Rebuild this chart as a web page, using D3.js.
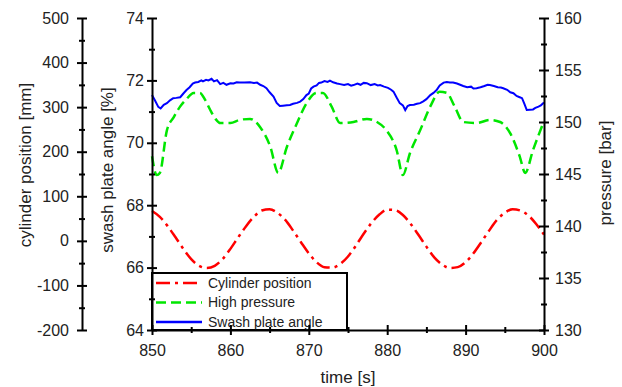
<!DOCTYPE html>
<html>
<head>
<meta charset="utf-8">
<script src="https://cdn.jsdelivr.net/npm/d3@7"></script>
<style>
body { margin: 0; background: #fff; }
text { font-family: "Liberation Sans", Arial, sans-serif; }
</style>
</head>
<body>
<div class="chart"></div>
<script>
let w = 622;
let h = 387;

// cylinder position [mm] vs time [s]
let cylTime = [850,851,852,853,854,855,856,857,858,859,860,861,862,863,864,865,866,867,868,869,870,
	871,872,873,874,875,876,877,878,879,880,881,882,883,884,885,886,887,888,889,890,
	891,892,893,894,895,896,897,898,899,900];
let cylPos = [67,54,33,8,-18,-41,-56,-61,-56,-41,-18,8,33,54,68,71,63,47,23,-3,-28,
	-48,-59,-60,-52,-35,-11,16,40,59,70,69,58,38,13,-13,-37,-53,-61,-59,-48,
	-28,-3,23,47,63,71,68,57,38,14];

// high pressure [bar]
let pressTime = [850,850.6,851,851.9,852.8,853.6,854.4,855.3,856.1,856.8,857.4,858.1,858.7,860,861.2,862.5,863.8,865.1,866.1,
	867.2,868.5,869.7,871,871.8,872.9,874,875.7,877.4,878.7,879.9,881.2,882,882.9,884.2,885.5,886.7,887.6,
	888.6,889.7,891.4,893.1,894.4,895.7,896.9,897.6,898.6,899.9];
let pressVal = [146.7,144.9,145.1,149.2,150.5,151.5,152.2,152.8,152.8,152.1,151.2,150.3,149.9,149.9,150.2,150.3,149.5,147.6,145.1,
	147.6,149.9,151.8,152.8,152.8,151.5,149.9,150.0,150.3,150.0,149.2,147.3,144.9,147.0,149.2,151.5,152.9,152.8,
	151.5,150.0,149.9,150.2,150.0,148.9,146.7,145.1,147.3,149.9];

// swash plate angle [%]
let swashTime = [850,850.4,850.8,851.1,851.5,851.9,852.3,852.7,853.1,853.6,854,854.4,854.8,855.2,855.5,855.9,856.3,856.5,856.9,857.2,
	857.6,857.9,858.3,858.7,859.1,859.5,860,860.4,860.8,861.2,861.8,862.5,863,863.4,863.8,864.2,864.6,865,865.5,865.9,
	866.3,866.7,867.2,867.6,868,868.5,868.9,869.3,869.7,870,870.3,870.6,871,871.3,871.6,872,872.4,872.7,873.1,873.6,
	874,874.5,875,875.4,875.7,876.2,876.6,877,877.4,877.9,878.4,878.8,879.1,879.6,880.1,880.5,880.8,881.2,881.6,882,
	882.3,882.6,882.9,883.4,883.8,884.2,884.6,885,885.5,885.9,886.3,886.7,887.2,887.6,888,888.4,888.9,889.3,889.7,890.2,
	890.7,891,891.4,891.9,892.4,892.8,893.1,893.6,894.1,894.5,894.8,895.3,895.7,896.1,896.5,896.9,897.2,897.5,897.8,898.2,
	898.6,898.9,899.3,899.6,900];
let swashVal = [71.53,71.35,71.15,71.10,71.22,71.27,71.36,71.43,71.44,71.46,71.58,71.69,71.78,71.90,71.93,71.95,72.00,71.97,72.02,72.00,
	72.05,71.97,72.01,71.88,71.92,71.86,71.91,71.90,71.94,71.93,71.93,71.94,71.92,71.93,71.86,71.82,71.75,71.62,71.48,71.28,
	71.18,71.19,71.20,71.21,71.25,71.28,71.32,71.40,71.53,71.58,71.74,71.80,71.84,71.92,71.93,71.98,71.95,71.99,71.94,71.90,
	71.88,71.85,71.88,71.83,71.85,71.90,71.86,71.92,71.91,71.85,71.88,71.84,71.85,71.80,71.76,71.70,71.64,71.45,71.27,71.20,
	71.05,71.18,71.21,71.22,71.25,71.27,71.33,71.40,71.53,71.60,71.69,71.84,71.93,71.95,71.93,71.93,71.90,71.86,71.82,71.78,
	71.80,71.74,71.75,71.78,71.82,71.86,71.85,71.82,71.78,71.77,71.75,71.70,71.62,71.59,71.50,71.46,71.43,71.25,71.05,71.06,
	71.07,71.12,71.16,71.20,71.29];

let timeTicks = [850,860,870,880,890,900];
let cylTicks = [-200,-100,0,100,200,300,400,500];
let swashTicks = [64,66,68,70,72,74];
let pressTicks = [130,135,140,145,150,155,160];

let legendNames = ["Cylinder position","High pressure","Swash plate angle"];
let legendColors = ["#ff0000","#00e600","#0000ff"];
let legendDash = ["14,5,3,5","10,5",null];

let pLeft = 152, pRight = 544, pTop = 18, pBottom = 330;

let x = d3.scaleLinear().domain([850,900]).range([pLeft,pRight]);
let yCyl = d3.scaleLinear().domain([-200,500]).range([pBottom,pTop]);
let ySwash = d3.scaleLinear().domain([64,74]).range([pBottom,pTop]);
let yPress = d3.scaleLinear().domain([130,160]).range([pBottom,pTop]);

let svg = d3.select('.chart')
	.append('svg')
	.attr('width', w)
	.attr('height', h);

// draws a crossing-tick axis: major ticks with labels + unlabeled minor ticks
function drawAxis(axisFn, scale, ticks, minor, pos, pad, vertical) {
	let g = svg.append('g').attr('transform', vertical ? `translate(${pos},0)` : `translate(0,${pos})`);
	g.call(axisFn(scale).tickValues(ticks).tickSize(5).tickPadding(pad).tickSizeOuter(0)
		.tickFormat(function(d){ return String(d); })); // plain hyphen minus like the original
	let g2 = svg.append('g').attr('transform', vertical ? `translate(${pos},0)` : `translate(0,${pos})`);
	g2.call(axisFn(scale).tickValues(minor).tickSize(3).tickFormat('').tickSizeOuter(0));
	g2.select('.domain').remove();
	[g, g2].forEach(function(a){
		a.selectAll('.tick line').each(function(){
			let l = d3.select(this);
			if (vertical) l.attr('x1', -(+l.attr('x2')));
			else l.attr('y1', -(+l.attr('y2')));
		});
		a.selectAll('line, path').attr('stroke', '#000').attr('stroke-width', 2);
	});
	g.selectAll('text').attr('font-size', '16px').attr('fill', '#222')
		.attr('font-family', '"Liberation Sans", Arial, sans-serif');
	return g;
}

function between(t, step) {
	let out = [];
	for (let i = 0; i < t.length - 1; i++) out.push(t[i] + step);
	return out;
}

// data lines first, axes drawn over them
const line = function(ys, xs, sc) {
	return d3.line()
		.x(function(d, i){ return x(xs[i]); })
		.y(function(d){ return sc(d); })
		.curve(d3.curveMonotoneX)(ys);
};

svg.append('path')
	.attr('d', line(cylPos, cylTime, yCyl))
	.attr('stroke', legendColors[0])
	.attr('stroke-width', 2.5)
	.attr('stroke-dasharray', legendDash[0])
	.attr('fill', 'none');

svg.append('path')
	.attr('d', line(pressVal, pressTime, yPress))
	.attr('stroke', legendColors[1])
	.attr('stroke-width', 2.5)
	.attr('stroke-dasharray', legendDash[1])
	.attr('fill', 'none');

svg.append('path')
	.attr('d', d3.line().x(function(d, i){ return x(swashTime[i]); }).y(function(d){ return ySwash(d); })(swashVal))
	.attr('stroke', legendColors[2])
	.attr('stroke-width', 2)
	.attr('fill', 'none');

// legend box
let lg = svg.append('g');
lg.append('rect')
	.attr('x', pLeft).attr('y', 273)
	.attr('width', 195).attr('height', pBottom - 273)
	.attr('fill', '#fff').attr('stroke', '#000').attr('stroke-width', 2);
legendNames.forEach(function(n, i){
	let yy = 283 + i * 19.5;
	lg.append('line')
		.attr('x1', 156).attr('x2', 202).attr('y1', yy).attr('y2', yy)
		.attr('stroke', legendColors[i]).attr('stroke-width', 2.5)
		.attr('stroke-dasharray', legendDash[i]);
	lg.append('text')
		.text(n)
		.attr('x', 208).attr('y', yy).attr('dy', '.35em')
		.attr('font-size', '14px').attr('fill', '#222');
});

// axes
drawAxis(d3.axisLeft, yCyl, cylTicks, between(cylTicks, 50), 82, 8, true);
drawAxis(d3.axisLeft, ySwash, swashTicks, between(swashTicks, 1), pLeft, 3, true);
drawAxis(d3.axisRight, yPress, pressTicks, between(pressTicks, 2.5), pRight, 6, true);
drawAxis(d3.axisBottom, x, timeTicks, between(timeTicks, 5), pBottom, 10, false);

// axis titles
function title(txt, tx, ty, rot) {
	svg.append('text')
		.text(txt)
		.attr('transform', `translate(${tx},${ty}) rotate(${rot})`)
		.attr('text-anchor', 'middle')
		.attr('dy', '.35em')
		.attr('font-size', '17px')
		.attr('fill', '#222');
}
title('cylinder position [mm]', 25, 165, -90);
title('swash plate angle [%]', 107, 170, -90);
title('pressure [bar]', 605, 173, -90);
title('time [s]', 348, 377, 0);
</script>
</body>
</html>
